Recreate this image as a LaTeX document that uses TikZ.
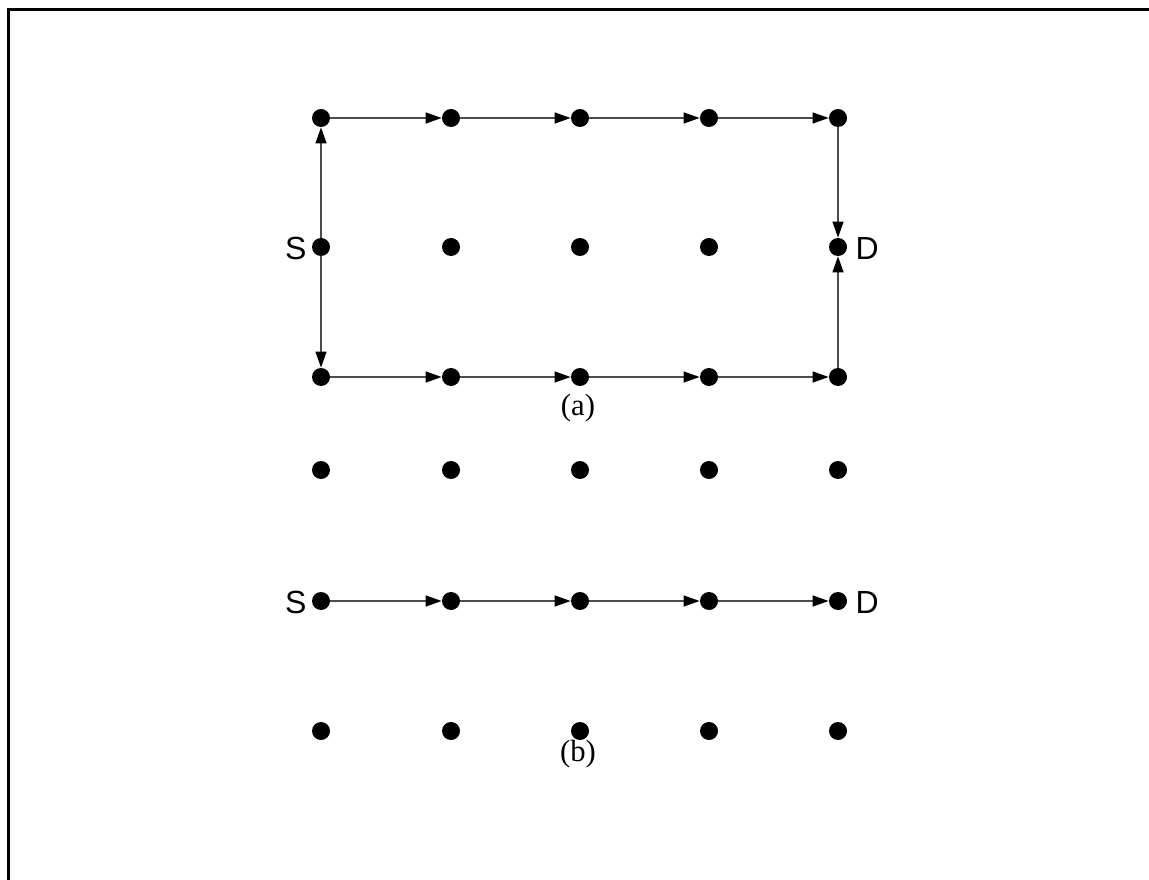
\documentclass[tikz,border=0pt]{standalone}
\usepackage{fontspec}
\setmainfont{Liberation Serif}
\newfontfamily\labsans{Liberation Sans}
\usetikzlibrary{arrows.meta}
\begin{document}
\begin{tikzpicture}[x=0.75pt,y=-0.75pt,
  dot/.style={circle,fill=black,inner sep=0pt,minimum size=13.5pt},
  conn/.style={draw=black!70,line width=1.5pt,-{Triangle[length=12pt,width=8pt,color=black]}},
  sd/.style={font=\labsans\fontsize{24}{24}\selectfont,inner sep=1pt},
  captxt/.style={font=\fontsize{23}{23}\selectfont,inner sep=0pt}]
\useasboundingbox (0,0) rectangle (1149,880);
\coordinate (tl) at (8,10);
\coordinate (tr) at (1149,10);
\coordinate (bl) at (8,880);
\draw[line width=2.25pt] (tr) -- (tl) -- (bl);
\foreach \c/\x in {0/321,1/451,2/580,3/709,4/838}{
  \node[dot] (aT\c) at (\x,118) {};
  \node[dot] (aM\c) at (\x,247) {};
  \node[dot] (aB\c) at (\x,377) {};
  \node[dot] (bT\c) at (\x,470) {};
  \node[dot] (bM\c) at (\x,601) {};
  \node[dot] (bB\c) at (\x,731) {};
}
\node[sd,anchor=east] (Sa) at (308,248) {S};
\node[sd,anchor=west] (Da) at (854,248) {D};
\node[sd,anchor=east] (Sb) at (308,602) {S};
\node[sd,anchor=west] (Db) at (854,602) {D};
\node[captxt] (capa) at (578,408) {(a)};
\node[captxt] (capb) at (578,754) {(b)};
\foreach \a/\b in {0/1,1/2,2/3,3/4}{
  \path[conn] (aT\a) -- (aT\b);
  \path[conn] (aB\a) -- (aB\b);
  \path[conn] (bM\a) -- (bM\b);
}
\path[conn] (aM0) -- (aT0);
\path[conn] (aM0) -- (aB0);
\path[conn] (aT4) -- (aM4);
\path[conn] (aB4) -- (aM4);
\end{tikzpicture}
\end{document}
